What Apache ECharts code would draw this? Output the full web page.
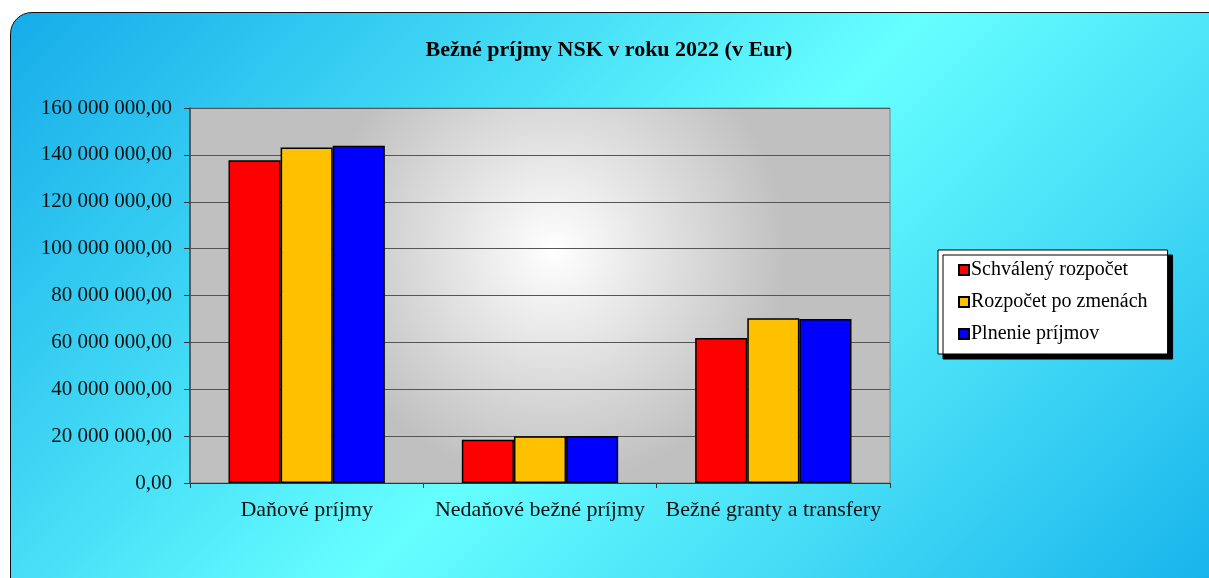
<!DOCTYPE html>
<html>
<head>
<meta charset="utf-8">
<script src="https://cdn.jsdelivr.net/npm/echarts@6/dist/echarts.min.js"></script>
<style>
  html, body { margin: 0; padding: 0; background: #fff; overflow: hidden; }
  #frame {
    position: absolute; left: 10px; top: 12px; width: 1230px; height: 600px;
    border: 1.5px solid #111; border-radius: 22px;
    background: linear-gradient(135deg, #16ace9 0%, #45dcf6 30%, #66ffff 50%, #45dcf6 72%, #12aeea 100%);
  }
  #chart { position: absolute; left: 0; top: 0; width: 1209px; height: 578px; }
</style>
</head>
<body>
<div id="frame"></div>
<div id="chart"></div>
<script>
// kategórie a hodnoty (v Eur)
var categories = ['Daňové príjmy', 'Nedaňové bežné príjmy', 'Bežné granty a transfery'];
var schvaleny = [137700000, 18500000, 61900000];
var poZmenach = [143200000, 20000000, 70300000];
var plnenie = [143900000, 20100000, 70000000];
var seriesNames = ['Schválený rozpočet', 'Rozpočet po zmenách', 'Plnenie príjmov'];

var font = '"Liberation Serif", "DejaVu Serif", serif';

function fmt(v) {
  var s = String(Math.round(v));
  return s.replace(/\B(?=(\d{3})+(?!\d))/g, ' ') + ',00';
}

var chart = echarts.init(document.getElementById('chart'));
var barStyle = function (c) {
  return { color: c, borderColor: '#000', borderWidth: 1.5 };
};

chart.setOption({
  backgroundColor: 'transparent',
  animation: false,
  title: {
    text: 'Bežné príjmy NSK v roku 2022 (v Eur)',
    left: 604, top: 34, textAlign: 'center',
    textStyle: { fontFamily: font, fontSize: 22, fontWeight: 'bold', color: '#000' }
  },
  grid: {
    left: 190, top: 108, right: 319, bottom: 95,
    show: true,
    borderColor: '#808080', borderWidth: 1,
    backgroundColor: {
      type: 'radial', x: 0.52, y: 0.38, r: 0.62,
      colorStops: [
        { offset: 0, color: '#ffffff' },
        { offset: 1, color: '#c0c0c0' }
      ]
    }
  },
  legend: {
    orient: 'vertical',
    left: 938, top: 250,
    padding: [10, 20, 10, 20],
    itemGap: 12,
    itemWidth: 10, itemHeight: 10,
    icon: 'rect',
    backgroundColor: '#fff',
    borderColor: '#000', borderWidth: 1,
    shadowColor: '#000', shadowBlur: 0, shadowOffsetX: 5, shadowOffsetY: 5,
    textStyle: { fontFamily: font, fontSize: 20, color: '#000', padding: [0, 0, 0, -3] },
    data: seriesNames
  },
  xAxis: {
    type: 'category',
    data: categories,
    axisLine: { lineStyle: { color: '#333', width: 1 } },
    axisTick: { show: true, length: 5, lineStyle: { color: '#333' } },
    axisLabel: { interval: 0, fontFamily: font, fontSize: 22, color: '#111', margin: 16 }
  },
  yAxis: {
    type: 'value',
    min: 0, max: 160000000, interval: 20000000,
    axisLine: { show: true, lineStyle: { color: '#444', width: 1.5 } },
    axisTick: { show: true, length: 6, lineStyle: { color: '#333' } },
    splitLine: { lineStyle: { color: '#555', width: 1 } },
    axisLabel: { fontFamily: font, fontSize: 21, color: '#111', margin: 18, formatter: fmt }
  },
  series: [
    { name: seriesNames[0], type: 'bar', data: schvaleny, barGap: '0%', barCategoryGap: '33%', itemStyle: barStyle('#ff0000') },
    { name: seriesNames[1], type: 'bar', data: poZmenach, barGap: '0%', barCategoryGap: '33%', itemStyle: barStyle('#ffc000') },
    { name: seriesNames[2], type: 'bar', data: plnenie, barGap: '0%', barCategoryGap: '33%', itemStyle: barStyle('#0000ff') }
  ]
});
</script>
</body>
</html>
